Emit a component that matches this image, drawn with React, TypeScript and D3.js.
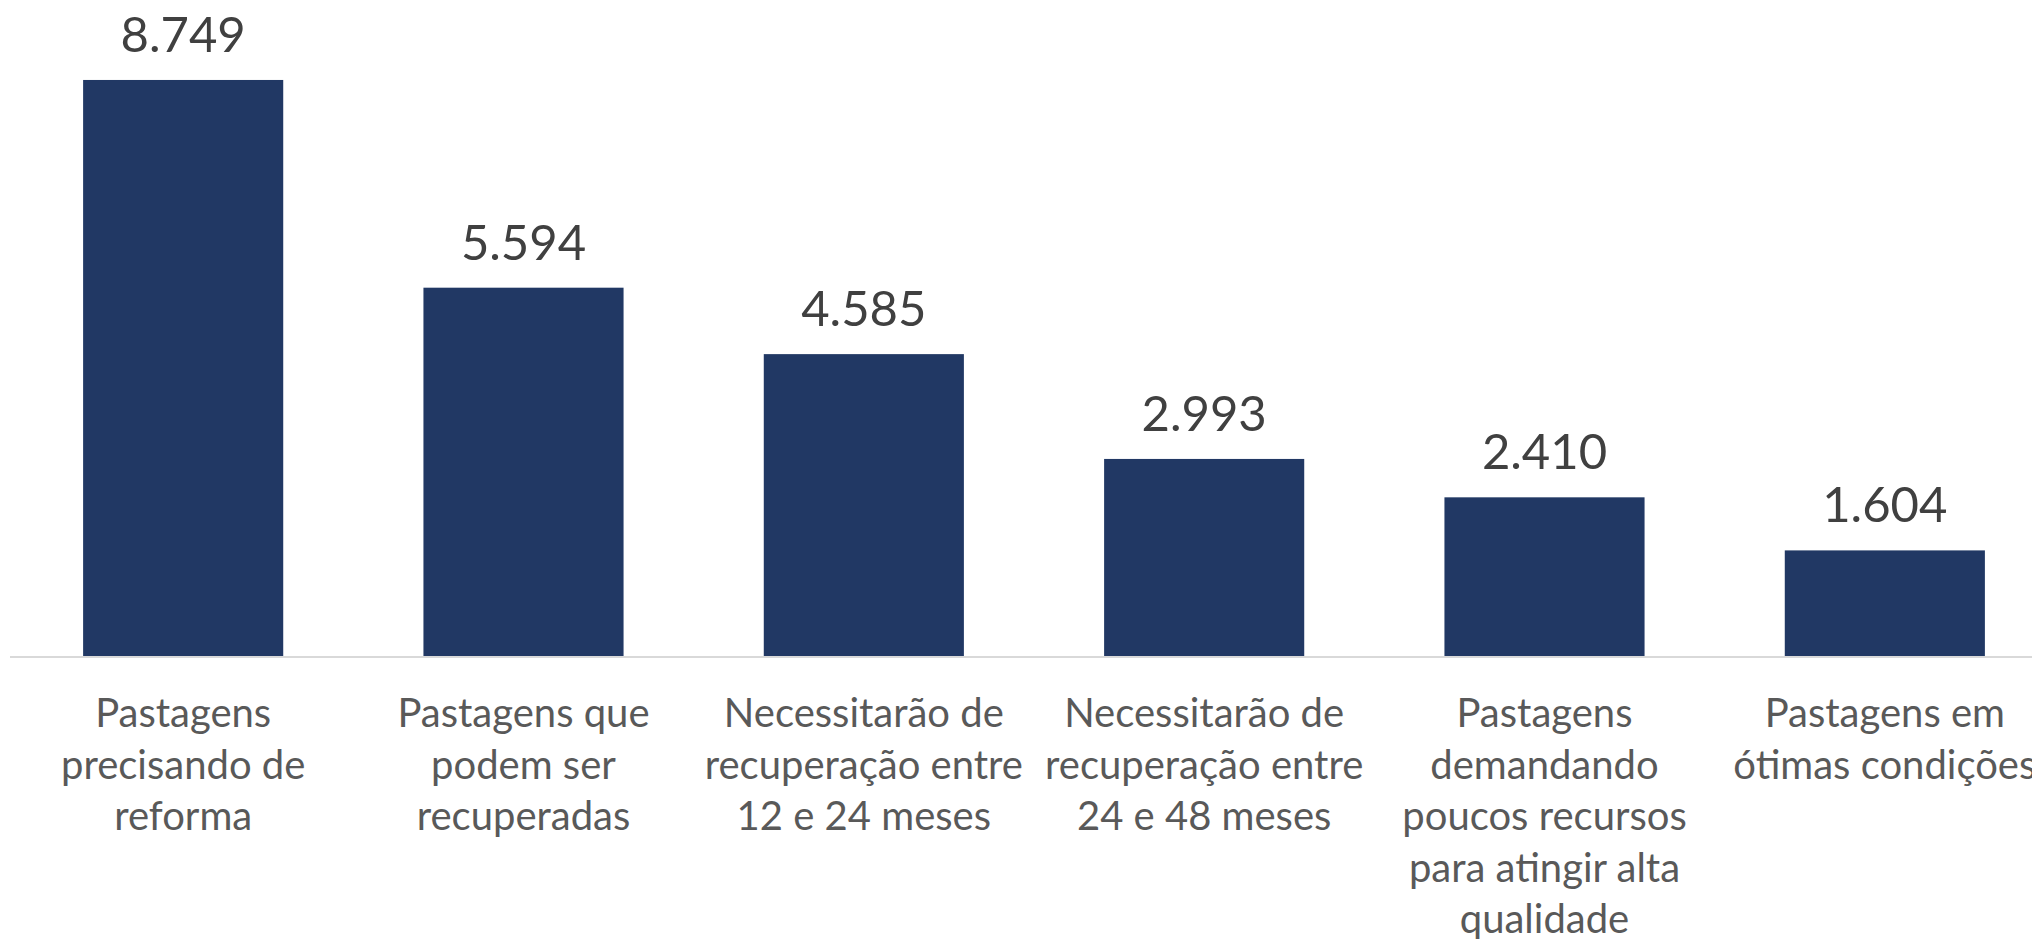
import React, { useRef, useEffect } from 'react';
import * as d3 from 'd3';

// Categories (split into the lines shown under each bar)
const categories: string[][] = [
  ['Pastagens', 'precisando de', 'reforma'],
  ['Pastagens que', 'podem ser', 'recuperadas'],
  ['Necessitarão de', 'recuperação entre', '12 e 24 meses'],
  ['Necessitarão de', 'recuperação entre', '24 e 48 meses'],
  ['Pastagens', 'demandando', 'poucos recursos', 'para atingir alta', 'qualidade'],
  ['Pastagens em', 'ótimas condições'],
];

const values: number[] = [8.749, 5.594, 4.585, 2.993, 2.41, 1.604];

const valueLabels: string[] = ['8.749', '5.594', '4.585', '2.993', '2.410', '1.604'];

const App = () => {
  const chartRef = useRef<SVGSVGElement | null>(null);

  useEffect(() => {
    const width = 2032;
    const height = 939;
    const baseline = 656;

    const svg = d3.select(chartRef.current);
    svg.selectAll('*').remove();

    const ids = categories.map((_, i) => String(i));

    // x band scale, runs past the right edge like the original
    const x = d3.scaleBand<string>()
      .domain(ids)
      .range([13, 2055])
      .paddingInner(0.412)
      .paddingOuter(0.206);

    const y = d3.scaleLinear()
      .domain([0, 9])
      .range([baseline, baseline - 9 * 65.84]);

    // Bars
    svg.selectAll('.bar')
      .data(values)
      .enter().append('rect')
      .attr('class', 'bar')
      .attr('x', (_, i) => x(ids[i]) as number)
      .attr('y', d => y(d))
      .attr('width', x.bandwidth())
      .attr('height', d => y(0) - y(d))
      .attr('fill', '#213864');

    // Baseline
    svg.append('line')
      .attr('x1', 10)
      .attr('x2', width)
      .attr('y1', y(0) + 1)
      .attr('y2', y(0) + 1)
      .attr('stroke', '#D9D9D9')
      .attr('stroke-width', 2);

    // Value labels
    svg.selectAll('.value')
      .data(values)
      .enter().append('text')
      .attr('class', 'value')
      .attr('x', (_, i) => (x(ids[i]) as number) + x.bandwidth() / 2)
      .attr('y', d => y(d) - 28)
      .attr('text-anchor', 'middle')
      .attr('font-family', 'Lato, sans-serif')
      .attr('font-size', 49)
      .attr('fill', '#404040')
      .text((_, i) => valueLabels[i]);

    // Category labels
    const cat = svg.selectAll('.cat')
      .data(categories)
      .enter().append('text')
      .attr('class', 'cat')
      .attr('text-anchor', 'middle')
      .attr('font-family', 'Lato, sans-serif')
      .attr('font-size', 40)
      .attr('fill', '#595959');

    cat.selectAll('tspan')
      .data((d, i) => d.map(line => ({ line, i })))
      .enter().append('tspan')
      .attr('x', d => (x(ids[d.i]) as number) + x.bandwidth() / 2)
      .attr('y', (_, j) => 727 + j * 51.6)
      .text(d => d.line);

    svg.attr('width', width).attr('height', height);
  }, []);

  return (
    <svg
      ref={chartRef}
      style={{ position: 'absolute', left: 0, top: 0, background: '#fff' }}
      width={2032}
      height={939}
    />
  );
};

export default App;
